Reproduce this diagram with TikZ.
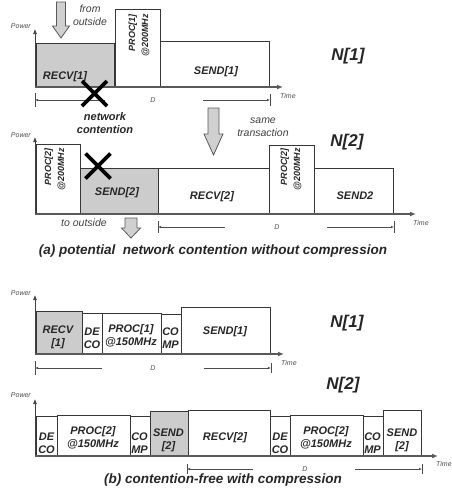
\documentclass[tikz,border=0pt]{standalone}
\usepackage{fontspec}
\setmainfont{Liberation Sans}
\usetikzlibrary{arrows.meta}

\definecolor{slotgray}{RGB}{204,204,204}
\definecolor{edgegray}{RGB}{55,55,55}
\definecolor{arrowgray}{RGB}{208,208,208}

% block arrow pointing down: x, top, bottom, shaft half width, head half width, head length
\newcommand\downblock[6]{%
  \filldraw[blockarrow] (#1-#4,#2) -- (#1+#4,#2) -- (#1+#4,#3-#6) -- (#1+#5,#3-#6)
    -- (#1,#3) -- (#1-#5,#3-#6) -- (#1-#4,#3-#6) -- cycle;}

\tikzset{
  slot/.style={draw=edgegray, line width=0.9pt, fill=white, inner sep=0pt, anchor=south west},
  busy/.style={slot, fill=slotgray},
  lbl/.style={font=\fontsize{11}{13}\selectfont\bfseries\itshape, align=center, inner sep=0pt, text=black!85},
  rlbl/.style={font=\fontsize{9}{13}\selectfont\bfseries\itshape, align=right, rotate=90, anchor=east, inner sep=0pt, text=black!85},
  note/.style={font=\fontsize{10.5}{13.5}\selectfont\itshape, align=center, inner sep=0pt, text=black!75},
  warn/.style={font=\fontsize{11}{12.5}\selectfont\bfseries\itshape, align=center, inner sep=0pt, text=black!85},
  axlbl/.style={font=\fontsize{7}{8}\selectfont\itshape, inner sep=0pt, text=black!70},
  nname/.style={font=\fontsize{17}{18}\selectfont\bfseries\itshape, inner sep=0pt, text=black!85},
  caption/.style={font=\fontsize{13.5}{15}\selectfont\bfseries\itshape, inner sep=0pt, text=black!85},
  vaxis/.style={draw=black!75, line width=0.7pt, -{Latex[length=5pt,width=4pt]}},
  haxis/.style={draw=black!65, line width=1.8pt, -{Latex[length=6pt,width=5pt]}},
  dim/.style={draw=black!70, line width=0.6pt, -{Latex[length=3pt,width=2.4pt]}},
  tick/.style={draw=black!70, line width=0.8pt},
  cross/.style={draw=black, line width=3.6pt},
  blockarrow/.style={fill=arrowgray, draw=black!65, line width=0.8pt},
}

\begin{document}
\begin{tikzpicture}[x=1pt, y=-1pt]
    \useasboundingbox (0,0) rectangle (452,499);

    % ---------- (a) node N[1] ----------
    \node[busy, minimum width=78pt, minimum height=43pt] (recvA) at (36,87) {};
    \node[slot, minimum width=45pt, minimum height=77.5pt] (procA) at (114.5,87) {};
    \node[slot, minimum width=109pt, minimum height=45pt] (sendA) at (160,87) {};
    \node[lbl] (recvAt) at (65,77) {RECV[1]};
    \node[rlbl] (procAt) at (139,14) {PROC[1]\\@200MHz};
    \node[lbl] (sendAt) at (216,72) {SEND[1]};

    \coordinate (oA) at (35,87);
    \coordinate (pA) at (35,29);
    \coordinate (tA) at (283,87);
    \draw[vaxis] (oA) -- (pA);
    \draw[haxis] (oA) -- (tA);
    \node[axlbl, anchor=east] (powA) at (31,26) {Power};
    \node[axlbl, anchor=west] (timeA) at (280,96) {Time};

    \node[axlbl] (dA) at (153,100) {D};
    \coordinate (dA1) at (35,100);
    \coordinate (dA2) at (105,100);
    \coordinate (dA3) at (203,100);
    \coordinate (dA4) at (270,100);
    \draw[dim] (dA2) -- (dA1);
    \draw[dim] (dA3) -- (dA4);
    \draw[tick] ([yshift=7pt]dA1) -- ([yshift=-7pt]dA1);
    \draw[tick] ([yshift=6pt]dA4) -- ([yshift=-6pt]dA4);

    \downblock{61}{2}{38}{4.5}{8.5}{12}
    \node[note] (fromA) at (90,15) {from\\outside};
    \draw[cross] (82,81) -- (107,106) (107,81) -- (82,106);
    \node[warn] (contA) at (105,123) {network\\contention};
    \node[nname] (nA) at (348,56) {N[1]};

    \downblock{213.5}{108}{155}{5.5}{9.5}{21}
    \node[note] (sameA) at (263,127) {same\\transaction};

    % ---------- (a) node N[2] ----------
    \node[slot, minimum width=44pt, minimum height=69pt] (procB) at (36,214) {};
    \node[busy, minimum width=78pt, minimum height=45pt] (sendB) at (80,214) {};
    \node[slot, minimum width=111pt, minimum height=45pt] (recvB) at (158,214) {};
    \node[slot, minimum width=45pt, minimum height=68pt] (procC) at (269,214) {};
    \node[slot, minimum width=79pt, minimum height=45pt] (sendC) at (314,214) {};
    \node[rlbl] (procBt) at (55,148) {PROC[2]\\@200MHz};
    \node[lbl] (sendBt) at (117,193) {SEND[2]};
    \node[lbl] (recvBt) at (212,197) {RECV[2]};
    \node[rlbl] (procCt) at (291,148) {PROC[2]\\@200MHz};
    \node[lbl] (sendCt) at (355,196) {SEND2};

    \coordinate (oB) at (35,214);
    \coordinate (pB) at (35,137);
    \coordinate (tB) at (416,214);
    \draw[vaxis] (oB) -- (pB);
    \draw[haxis] (oB) -- (tB);
    \node[axlbl, anchor=east] (powB) at (31,135) {Power};
    \node[axlbl, anchor=west] (timeB) at (413,223) {Time};

    \node[axlbl] (dB) at (277,227) {D};
    \coordinate (dB1) at (158,227);
    \coordinate (dB2) at (225,227);
    \coordinate (dB3) at (327,227);
    \coordinate (dB4) at (394,227);
    \draw[dim] (dB2) -- (dB1);
    \draw[dim] (dB3) -- (dB4);
    \draw[tick] ([yshift=6pt]dB1) -- ([yshift=-6pt]dB1);
    \draw[tick] ([yshift=6pt]dB4) -- ([yshift=-6pt]dB4);

    \draw[cross] (85.5,153.5) -- (110.5,178.5) (110.5,153.5) -- (85.5,178.5);
    \node[note] (toB) at (84,223) {to outside};
    \downblock{131}{218}{238}{6}{9.5}{10}
    \node[nname] (nB) at (347,142) {N[2]};

    \node[caption] (capA) at (213,251) {(a) potential \ network contention without compression};

    % ---------- (b) node N[1] ----------
    \node[busy, minimum width=45.5pt, minimum height=42pt] (recvC) at (36,354) {};
    \node[slot, minimum width=20pt, minimum height=40pt] (decoA) at (81.5,354) {};
    \node[slot, minimum width=59pt, minimum height=40pt] (procD) at (101.5,354) {};
    \node[slot, minimum width=20pt, minimum height=39pt] (compA) at (160.5,354) {};
    \node[slot, minimum width=89.5pt, minimum height=46pt] (sendD) at (180.5,354) {};
    \node[lbl] (recvCt) at (58,337) {RECV\\{[1]}};
    \node[lbl] (decoAt) at (92,338) {DE\\CO};
    \node[lbl] (procDt) at (131,336) {PROC[1]\\@150MHz};
    \node[lbl] (compAt) at (170.5,338) {CO\\MP};
    \node[lbl] (sendDt) at (225,332) {SEND[1]};

    \coordinate (oC) at (35,354);
    \coordinate (pC) at (35,295);
    \coordinate (tC) at (284,354);
    \draw[vaxis] (oC) -- (pC);
    \draw[haxis] (oC) -- (tC);
    \node[axlbl, anchor=east] (powC) at (31,293) {Power};
    \node[axlbl, anchor=west] (timeC) at (281,363) {Time};

    \node[axlbl] (dC) at (153,368) {D};
    \coordinate (dC1) at (35,368);
    \coordinate (dC2) at (102,368);
    \coordinate (dC3) at (204,368);
    \coordinate (dC4) at (271,368);
    \draw[dim] (dC2) -- (dC1);
    \draw[dim] (dC3) -- (dC4);
    \draw[tick] ([yshift=7pt]dC1) -- ([yshift=-7pt]dC1);
    \draw[tick] ([yshift=5pt]dC4) -- ([yshift=-5pt]dC4);
    \node[nname] (nC) at (347,323) {N[1]};

    % ---------- (b) node N[2] ----------
    \node[slot, minimum width=21pt, minimum height=39pt] (decoB) at (36,456) {};
    \node[slot, minimum width=72.5pt, minimum height=40pt] (procE) at (57,456) {};
    \node[slot, minimum width=20pt, minimum height=39pt] (compB) at (129.5,456) {};
    \node[busy, minimum width=38pt, minimum height=44pt] (sendE) at (149.5,456) {};
    \node[slot, minimum width=82.5pt, minimum height=45pt] (recvD) at (187.5,456) {};
    \node[slot, minimum width=20pt, minimum height=39pt] (decoC) at (270,456) {};
    \node[slot, minimum width=72.5pt, minimum height=40pt] (procF) at (290,456) {};
    \node[slot, minimum width=20.5pt, minimum height=39pt] (compC) at (362.5,456) {};
    \node[slot, minimum width=38pt, minimum height=45pt] (sendF) at (383,456) {};
    \node[lbl] (decoBt) at (46.5,443) {DE\\CO};
    \node[lbl] (procEt) at (93,438) {PROC[2]\\@150MHz};
    \node[lbl] (compBt) at (139.5,443) {CO\\MP};
    \node[lbl] (sendEt) at (168.5,440) {SEND\\{[2]}};
    \node[lbl] (recvDt) at (225,438) {RECV[2]};
    \node[lbl] (decoCt) at (280,443) {DE\\CO};
    \node[lbl] (procFt) at (326,438) {PROC[2]\\@150MHz};
    \node[lbl] (compCt) at (372.5,443) {CO\\MP};
    \node[lbl] (sendFt) at (402,440) {SEND\\{[2]}};

    \coordinate (oD) at (35,456);
    \coordinate (pD) at (35,399);
    \coordinate (tD) at (438,456);
    \draw[vaxis] (oD) -- (pD);
    \draw[haxis] (oD) -- (tD);
    \node[axlbl, anchor=east] (powD) at (31,395) {Power};
    \node[axlbl, anchor=west] (timeD) at (436,464) {Time};

    \node[axlbl] (dD) at (305,469) {D};
    \coordinate (dD1) at (187,469);
    \coordinate (dD2) at (253,469);
    \coordinate (dD3) at (355,469);
    \coordinate (dD4) at (422,469);
    \draw[dim] (dD2) -- (dD1);
    \draw[dim] (dD3) -- (dD4);
    \draw[tick] ([yshift=5pt]dD1) -- ([yshift=-5pt]dD1);
    \draw[tick] ([yshift=5pt]dD4) -- ([yshift=-5pt]dD4);
    \node[nname] (nD) at (343,385) {N[2]};

    \node[caption] (capB) at (223,480) {(b) contention-free with compression};
\end{tikzpicture}
\end{document}
